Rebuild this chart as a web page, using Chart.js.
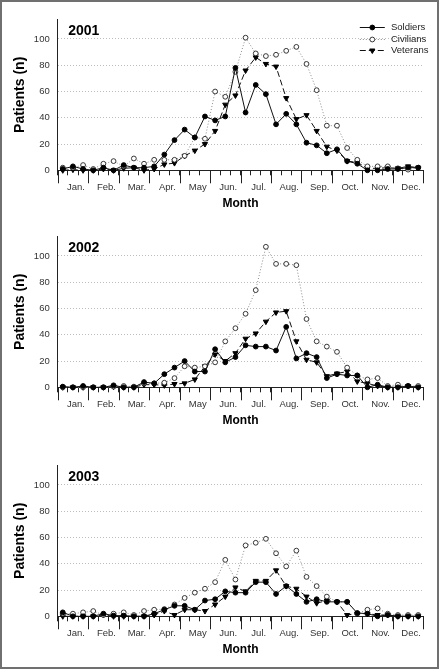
<!DOCTYPE html>
<html>
<head>
<meta charset="utf-8">
<script src="https://cdn.jsdelivr.net/npm/chart.js@4.4.1/dist/chart.umd.min.js"></script>
<style>
  html, body { margin: 0; padding: 0; background: #fff; }
  #frame { position: relative; width: 439px; height: 669px; background: #fff; overflow: hidden; }
  #frame canvas { position: absolute; left: 0; }
  #edge { position: absolute; left: 0; top: 0; right: 0; bottom: 0; border: 2px solid #707070; pointer-events: none; }
</style>
</head>
<body>
<div id="frame">
  <canvas id="c2001" width="439" height="216" style="top:0px"></canvas>
  <canvas id="c2002" width="439" height="216" style="top:217px"></canvas>
  <canvas id="c2003" width="439" height="216" style="top:446px"></canvas>
  <div id="edge"></div>
</div>
<script>
// --- DATA ---
const months = ['Jan.', 'Feb.', 'Mar.', 'Apr.', 'May', 'Jun.', 'Jul.', 'Aug.', 'Sep.', 'Oct.', 'Nov.', 'Dec.'];
// three 10-day periods per month
const periods = months.flatMap(m => [m + ' 1-10', m + ' 11-20', m + ' 21-31']);
const yTicks = [0, 20, 40, 60, 80, 100];
const yMax = 115;
const seriesNames = ['Soldiers', 'Civilians', 'Veterans'];

const soldiers2001  = [1, 3, 1, 0, 2, 0, 4, 2, 2, 3, 12, 23, 31, 25, 41, 38, 41, 78, 44, 65, 58, 35, 43, 35, 21, 19, 13, 16, 7, 5, 0, 0, 1, 1, 2, 2];
const civilians2001 = [2, 2, 4, 1, 5, 7, 3, 9, 5, 8, 8, 8, 11, 25, 24, 60, 56, 75, 101, 89, 87, 88, 91, 94, 81, 61, 34, 34, 17, 8, 3, 3, 3, 1.5, 0.5, 2];
const veterans2001  = [0, 0.5, 0, 0, 1, 0, 1.5, 2, 0, 1, 4.5, 5.5, 11, 15, 20, 30, 50, 57, 76, 86, 81, 79, 55, 39, 42, 30, 18, 15, 7, 6, 1.5, 1.5, 2, 1.5, 3, 2];

const soldiers2002  = [0.5, 0, 1, 0, 0, 1.5, 0, 0, 4, 3, 10, 15, 20, 12, 12, 29, 19, 23, 32, 31, 31, 28, 46, 22, 26, 23, 7, 10, 9, 9, 0, 2, 0, 0, 1, 0];
const civilians2002 = [0, 0, 0, 0, 0, 0.5, 1, 0.5, 3, 3, 3.5, 7, 16, 15, 16, 19, 35, 45, 56, 74, 107, 94, 94, 93, 52, 35, 31, 27, 15, 9, 6, 7, 1, 2, 1, 1];
const veterans2002  = [0, 0, 0, 0, 0, 0.5, 0, 0, 2, 2, 1.5, 2.5, 3, 6, 16, 25, 20, 26, 37, 41, 50, 57, 58, 35, 21, 19, 8.5, 10.5, 12, 4.5, 3, 1, 0, 0, 1, 0];

const soldiers2003  = [3, 0, 0, 0, 2, 0.5, 0.5, 0, 0, 2, 5, 8, 8, 5, 12, 13, 19, 18, 18, 26, 26, 17, 23, 17, 11, 13, 11, 11, 11, 2.5, 2, 0, 1, 0, 0, 0];
const civilians2003 = [2, 2, 3, 4, 1, 2, 3, 1, 4, 5, 5.5, 9, 14, 18, 21, 26, 43, 28, 54, 56, 59, 48, 38, 50, 30, 23, 15, 11, 11, 2, 5, 6, 2, 1, 1, 1];
const veterans2003  = [0, 0, 0, 0, 1, 0, 0, 0, 0, 1, 4, 1, 5, 5, 4, 9, 15, 22, 19, 27, 27, 35, 23, 21, 15, 10, 12, 11, 1, 2, 2, 1, 1, 0, 0, 0];

// --- STYLES ---
const FONT = '"Liberation Sans", Arial, Helvetica, sans-serif';
const seriesStyles = [
    { borderColor: '#111', borderWidth: 1, borderDash: [], pointStyle: 'circle', pointRadius: 2.4,
      pointBackgroundColor: '#000', pointBorderColor: '#000', pointBorderWidth: 1, pointRotation: 0 },
    { borderColor: '#8a8a8a', borderWidth: 1, borderDash: [1, 2], pointStyle: 'circle', pointRadius: 2.4,
      pointBackgroundColor: '#fff', pointBorderColor: '#222', pointBorderWidth: 0.9, pointRotation: 0 },
    { borderColor: '#111', borderWidth: 1, borderDash: [6, 3], pointStyle: 'triangle', pointRadius: 3,
      pointBackgroundColor: '#000', pointBorderColor: '#000', pointBorderWidth: 1, pointRotation: 180 }
];

function drawMarker(ctx, ds, x, y) {
    ctx.save();
    ctx.setLineDash([]);
    ctx.fillStyle = ds.pointBackgroundColor;
    ctx.strokeStyle = ds.pointBorderColor;
    ctx.lineWidth = ds.pointBorderWidth;
    const r = ds.pointRadius;
    ctx.beginPath();
    if (ds.pointStyle === 'triangle') {
        ctx.moveTo(x, y + r);
        ctx.lineTo(x - r * 0.866, y - r / 2);
        ctx.lineTo(x + r * 0.866, y - r / 2);
        ctx.closePath();
    } else {
        ctx.arc(x, y, r, 0, Math.PI * 2);
    }
    ctx.fill();
    ctx.stroke();
    ctx.restore();
}

// month ticks (long), year label and legend
const panelDecor = {
    id: 'panelDecor',
    afterDraw(chart, args, opts) {
        const { ctx, chartArea } = chart;
        const xs = chart.scales.x;
        const step = xs.getPixelForValue(1) - xs.getPixelForValue(0);

        ctx.save();
        ctx.strokeStyle = '#222';
        ctx.lineWidth = 1;
        ctx.beginPath();
        for (let m = 0; m <= months.length; m++) {
            const px = Math.round(xs.getPixelForValue(m * 3) - step / 2) + 0.5;
            ctx.moveTo(px, chartArea.bottom);
            ctx.lineTo(px, chartArea.bottom + 13);
        }
        ctx.stroke();

        ctx.fillStyle = '#000';
        ctx.font = 'bold 14px ' + FONT;
        ctx.textBaseline = 'middle';
        ctx.textAlign = 'left';
        ctx.fillText(opts.year, chartArea.left + 10.5, chartArea.top + 12);

        if (opts.legend) {
            ctx.font = '9.5px ' + FONT;
            chart.data.datasets.forEach((ds, i) => {
                const y = Math.round(chartArea.top + 8 + i * 11.4) + 0.5;
                const x0 = chartArea.right - 63.5, x1 = chartArea.right - 38.5;
                ctx.save();
                ctx.strokeStyle = ds.borderColor;
                ctx.lineWidth = ds.borderWidth;
                ctx.setLineDash(ds.borderDash);
                ctx.beginPath();
                ctx.moveTo(x0, y);
                ctx.lineTo(x1, y);
                ctx.stroke();
                ctx.restore();
                drawMarker(ctx, ds, (x0 + x1) / 2, y);
                ctx.fillStyle = '#222';
                ctx.fillText(ds.label, chartArea.right - 32.3, y);
            });
        }
        ctx.restore();
    }
};

function drawPanel(id, year, values, withLegend) {
    new Chart(document.getElementById(id), {
        type: 'line',
        data: {
            labels: periods,
            datasets: values.map((v, i) => Object.assign(
                { label: seriesNames[i], data: v, tension: 0, fill: false, clip: false },
                seriesStyles[i]))
        },
        options: {
            responsive: false,
            animation: false,
            events: [],
            layout: { padding: { top: 19.3, right: 15.7, bottom: 0, left: 0 } },
            plugins: {
                legend: { display: false },
                tooltip: { enabled: false },
                panelDecor: { year: year, legend: withLegend }
            },
            scales: {
                x: {
                    type: 'category',
                    offset: true,
                    grid: { display: true, drawOnChartArea: false, drawTicks: true, tickLength: 5, offset: true, color: '#222', tickColor: '#222' },
                    border: { display: true, color: '#222', width: 1 },
                    ticks: {
                        autoSkip: false, maxRotation: 0, minRotation: 0, padding: 6, labelOffset: 3,
                        color: '#333', font: { family: FONT, size: 9.5 },
                        callback: (v, i) => i % 3 === 1 ? months[(i - 1) / 3] : ''
                    },
                    title: { display: true, text: 'Month', color: '#000', font: { family: FONT, size: 12, weight: 'bold' }, padding: { top: 0, bottom: 4.8 } },
                    afterFit: s => { s.height = 45.7; }
                },
                y: {
                    min: 0,
                    max: yMax,
                    afterBuildTicks: s => { s.ticks = yTicks.map(v => ({ value: v })); },
                    grid: { drawTicks: false, lineWidth: 1, color: c => (c.tick && c.tick.value === 0) ? 'rgba(0,0,0,0)' : '#bdbdbd' },
                    border: { display: true, color: '#222', width: 1, dash: [1, 2] },
                    ticks: { padding: 8, color: '#333', font: { family: FONT, size: 9.5 } },
                    title: { display: true, text: 'Patients (n)', color: '#000', font: { family: FONT, size: 14, weight: 'bold' }, padding: { top: 11.6, bottom: 0 } },
                    afterFit: s => { s.width = 57.7; }
                }
            }
        },
        plugins: [panelDecor]
    });
}

drawPanel('c2001', '2001', [soldiers2001, civilians2001, veterans2001], true);
drawPanel('c2002', '2002', [soldiers2002, civilians2002, veterans2002], false);
drawPanel('c2003', '2003', [soldiers2003, civilians2003, veterans2003], false);
</script>
</body>
</html>
